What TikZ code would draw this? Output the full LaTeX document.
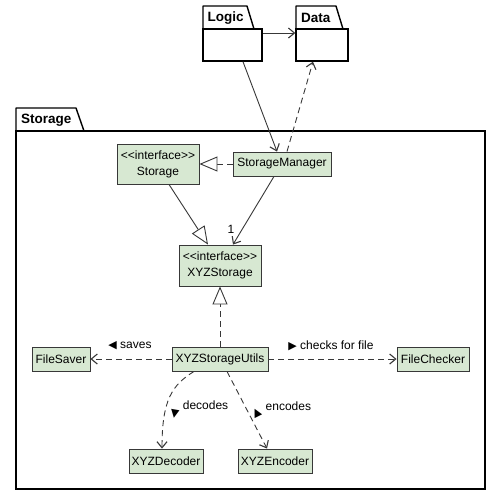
\documentclass[tikz,border=0pt]{standalone}
\usepackage{fontspec}
\newfontfamily\umlfont{Liberation Sans}
\newfontfamily\symfont{DejaVu Sans}
\usetikzlibrary{arrows.meta}

\definecolor{clsfill}{RGB}{215,232,210}
\definecolor{linegray}{RGB}{56,56,56}

\begin{document}
\begin{tikzpicture}[x=1pt,y=-1pt,
    cls/.style={draw=linegray, fill=clsfill, line width=0.9pt, inner sep=1pt, align=center,
        font=\umlfont\fontsize{12}{16}\selectfont, minimum height=24},
    pkgbody/.style={draw=black, fill=white, line width=1.4pt, inner sep=0pt},
    pkgtab/.style={draw=black, fill=white, line width=1.4pt, line join=round},
    pkgname/.style={font=\umlfont\bfseries\fontsize{13.5}{15}\selectfont, inner sep=0pt, anchor=west},
    lbl/.style={font=\umlfont\fontsize{12}{14}\selectfont, inner sep=0pt},
    assoc/.style={draw=linegray, line width=0.9pt, -{Straight Barb[length=6pt,width=10pt,line width=1.1pt]}},
    dep/.style={assoc, dash pattern=on 6pt off 4pt},
    real/.style={draw=linegray, line width=0.9pt, dash pattern=on 6pt off 4pt,
        -{Triangle[open,length=18pt,width=15pt,fill=white]}},
    gen/.style={draw=linegray, line width=0.9pt, -{Triangle[open,length=18pt,width=15pt,fill=white]}}]
    \useasboundingbox (0,0) rectangle (501,496);

    % packages
    \draw [pkgtab] (203,29) -- (203,6) -- (247,6) -- (254,29);
    \node [pkgbody, minimum width=59, minimum height=32] (logic) at (232.5,45) {};
    \node [pkgname] (logicname) at (207.5,18) {Logic};
    \draw [pkgtab] (296,29) -- (296,6) -- (336,6) -- (343,29);
    \draw [pkgtab] (16,131) -- (16,108) -- (76,108) -- (84,131);
    \node [pkgbody, minimum width=52, minimum height=32] (data) at (322,45) {};
    \node [pkgname] (dataname) at (301,18) {Data};
    \node [pkgbody, minimum width=469, minimum height=358] (storagepkg) at (250.5,310) {};
    \node [pkgname] (storagename) at (21,120) {Storage};

    % classes
    \node [cls, minimum width=82, minimum height=40] (storage) at (158,164) {<<interface>>\\Storage};
    \node [cls, minimum width=98] (manager) at (282,164) {StorageManager};
    \node [cls, minimum width=82, minimum height=41] (xyz) at (220,265.5) {<<interface>>\\XYZStorage};
    \node [cls, minimum width=96] (utils) at (220,359) {XYZStorageUtils};
    \node [cls, minimum width=58] (saver) at (61,359) {FileSaver};
    \node [cls, minimum width=72] (checker) at (433,359) {FileChecker};
    \node [cls, minimum width=74] (decoder) at (166,461) {XYZDecoder};
    \node [cls, minimum width=74] (encoder) at (275,461) {XYZEncoder};

    % links
    \draw [assoc] (logic.east |- 0,33) -- (data.west |- 0,33);
    \draw [assoc] ([xshift=10.5]logic.south) -- ([xshift=-5]manager.north);
    \draw [dep] ([xshift=5]manager.north) -- ([xshift=-9]data.south);
    \draw [real] (manager.west) -- (storage.east);
    \draw [gen] ([xshift=11]storage.south) -- ([xshift=-12]xyz.north);
    \draw [assoc] ([xshift=-8]manager.south) -- ([xshift=13]xyz.north);
    \node [lbl] (mult) at (231,229.5) {1};
    \draw [real] (utils.north) -- (xyz.south);
    \draw [dep] (utils.west) -- (saver.east);
    \node [lbl] (saveslbl) at (130,346) {{\symfont\fontsize{11}{11}\selectfont ◀} saves};
    \draw [dep] (utils.east) -- (checker.west);
    \node [lbl] (checkslbl) at (331,346) {{\symfont\fontsize{11}{11}\selectfont ▶} checks for file};
    \draw [dep] ([xshift=-26]utils.south) .. controls (172,385) and (162,400) .. ([xshift=-4]decoder.north);
    \node [lbl] (decodeslbl) at (199,410) {\rotatebox{-100}{\symfont\fontsize{11}{11}\selectfont ▶} decodes};
    \draw [dep] ([xshift=7]utils.south) -- ([xshift=-8]encoder.north);
    \node [lbl] (encodeslbl) at (281,410) {\rotatebox{-63}{\symfont\fontsize{11}{11}\selectfont ◀} encodes};
\end{tikzpicture}
\end{document}
